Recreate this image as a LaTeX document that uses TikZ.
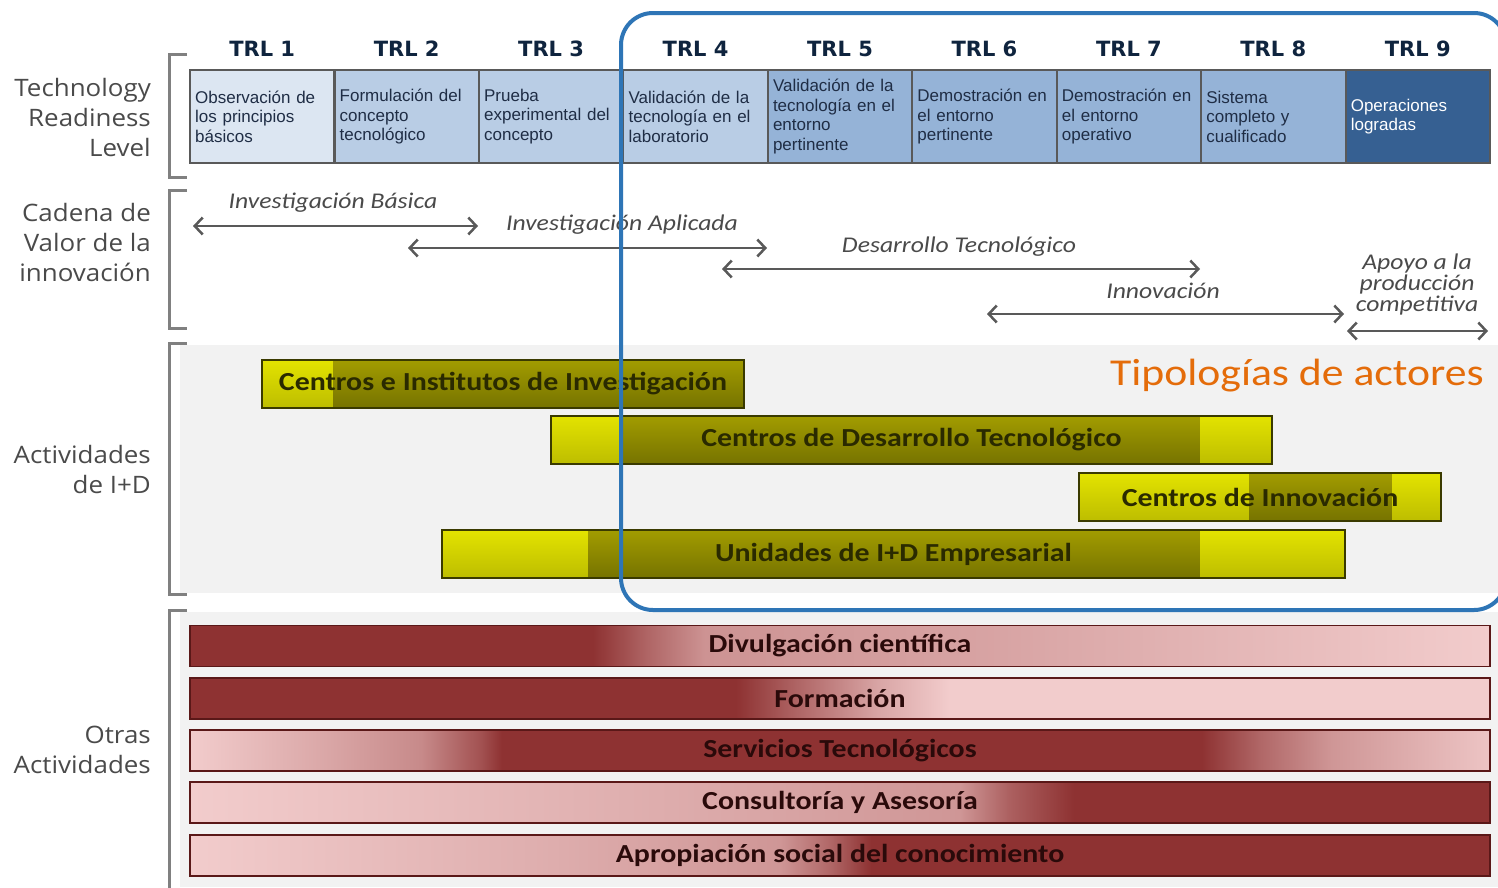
\documentclass[tikz,border=0pt]{standalone}
\usepackage{fontspec}
\setmainfont{Carlito}
\newfontfamily\wcal[FakeStretch=1.15]{Carlito}
\newfontfamily\icalw[FakeStretch=1.14]{Carlito}
\newfontfamily\arialf{Liberation Sans}
\newfontfamily\dejab{DejaVu Sans}
\newfontfamily\opensans[FakeStretch=1.08]{Open Sans}
\usetikzlibrary{arrows.meta}
\definecolor{trlA}{HTML}{DCE6F2}
\definecolor{trlB}{HTML}{B9CDE5}
\definecolor{trlC}{HTML}{95B3D7}
\definecolor{trlD}{HTML}{366092}
\definecolor{boxline}{HTML}{595959}
\definecolor{boxtext}{HTML}{1F2D45}
\definecolor{navy}{HTML}{0F243E}
\definecolor{labgray}{HTML}{4A4A4A}
\definecolor{brk}{HTML}{808080}
\definecolor{panel}{HTML}{F2F2F2}
\definecolor{arr}{HTML}{595959}
\definecolor{bluebox}{HTML}{2E75B6}
\definecolor{orangeT}{HTML}{E46C0A}
\definecolor{ybT}{HTML}{E3E300}
\definecolor{ybB}{HTML}{BDBD00}
\definecolor{ydT}{HTML}{A29C00}
\definecolor{ydB}{HTML}{767300}
\definecolor{yline}{HTML}{3A3A00}
\definecolor{ytext}{HTML}{2A2A00}
\definecolor{dr}{HTML}{8E3232}
\definecolor{lp}{HTML}{F2CCCC}
\definecolor{rline}{HTML}{5A1818}
\definecolor{rtext}{HTML}{2A0A0A}
\pgfdeclarehorizontalshading{shdivul}{100bp}{color(0bp)=(dr); color(25bp)=(dr); color(40.5bp)=(dr); color(42.5bp)=(dr!68!lp); color(44.8bp)=(dr!37!lp); color(56.2bp)=(dr!26!lp); color(75bp)=(lp); color(100bp)=(lp)}
\pgfdeclarehorizontalshading{shform}{100bp}{color(0bp)=(dr); color(25bp)=(dr); color(46bp)=(dr); color(48.5bp)=(dr!65!lp); color(51.5bp)=(dr!25!lp); color(54.2bp)=(lp); color(100bp)=(lp)}
\pgfdeclarehorizontalshading{shserv}{100bp}{color(0bp)=(lp); color(25bp)=(lp); color(30.4bp)=(dr!25!lp); color(33.9bp)=(dr!43!lp); color(36.2bp)=(dr!80!lp); color(37bp)=(dr); color(63.9bp)=(dr); color(66.2bp)=(dr!65!lp); color(68.9bp)=(dr!35!lp); color(71.5bp)=(dr!22!lp); color(75bp)=(dr!5!lp); color(100bp)=(dr!5!lp)}
\pgfdeclarehorizontalshading{shcons}{100bp}{color(0bp)=(lp); color(25bp)=(lp); color(44.6bp)=(dr!22!lp); color(54.6bp)=(dr!35!lp); color(56.5bp)=(dr!70!lp); color(59bp)=(dr); color(100bp)=(dr)}
\pgfdeclarehorizontalshading{shapro}{100bp}{color(0bp)=(lp); color(25bp)=(lp); color(38.9bp)=(dr!20!lp); color(47.7bp)=(dr!35!lp); color(49.6bp)=(dr!65!lp); color(51.2bp)=(dr); color(100bp)=(dr)}
\newcommand{\lowtxt}[1]{\raisebox{-2.5pt}{#1}}
\tikzset{
  trlbox/.style={draw=boxline, line width=2pt, minimum width=144.4pt, minimum height=93pt, inner xsep=5pt, text width=134pt, align=left, font=\arialf\fontsize{17}{19.5}\selectfont, text=boxtext},
  trllab/.style={font=\dejab\bfseries\fontsize{21}{25}\selectfont, text=navy},
  sidelab/.style={anchor=east, align=right, font=\opensans\fontsize{24}{30}\selectfont, text=labgray, inner sep=0pt},
  brack/.style={draw=brk, line width=3pt},
  arrlab/.style={font=\icalw\itshape\fontsize{22.5}{21}\selectfont, text=labgray, align=center, inner sep=0pt},
  dblarrow/.style={draw=arr, line width=2.5pt, {Straight Barb[length=8pt,width=17pt]}-{Straight Barb[length=8pt,width=17pt]}},
  ybox/.style={draw=yline, line width=1.5pt, minimum height=48pt, font=\wcal\bfseries\fontsize{26}{28}\selectfont, text=ytext},
  rbar/.style={shade, draw=rline, line width=1.5pt, minimum width=1300pt, minimum height=41pt, font=\wcal\bfseries\fontsize{26}{28}\selectfont, text=rtext}
}
\begin{document}
\begin{tikzpicture}[x=1pt,y=-1pt]
\clip (0,0) rectangle (1498,887);
\fill[white] (0,0) rectangle (1498,887);
% panels
\fill[panel] (180,345) rectangle (1498,593);
\fill[panel] (180,612) rectangle (1498,887);
% brackets
\draw[brack] (187,54) -- (169,54) -- (169,177) -- (187,177);
\draw[brack] (187,190) -- (169,190) -- (169,328) -- (187,328);
\draw[brack] (187,343) -- (169,343) -- (169,594) -- (187,594);
\draw[brack] (187,610) -- (169,610) -- (169,900);
% side labels
\node[sidelab] (lt) at (151,117) {Technology\\Readiness\\Level};
\node[sidelab] (lc) at (151,242) {Cadena de\\Valor de la\\innovación};
\node[sidelab] (la) at (151,469) {Actividades\\de I+D};
\node[sidelab] (lo) at (151,750) {Otras\\Actividades};
% TRL labels
\node[trllab] (h1) at (262.2,49) {TRL 1};
\node[trllab] (h2) at (406.7,49) {TRL 2};
\node[trllab] (h3) at (551.1,49) {TRL 3};
\node[trllab] (h4) at (695.6,49) {TRL 4};
\node[trllab] (h5) at (840.0,49) {TRL 5};
\node[trllab] (h6) at (984.4,49) {TRL 6};
\node[trllab] (h7) at (1128.9,49) {TRL 7};
\node[trllab] (h8) at (1273.3,49) {TRL 8};
\node[trllab] (h9) at (1417.8,49) {TRL 9};
% TRL boxes
\node[trlbox, fill=trlA] (t1) at (262.2,116.5) {Observación de\\los principios\\básicos};
\node[trlbox, fill=trlB] (t2) at (406.7,116.5) {Formulación del\\concepto\\tecnológico};
\node[trlbox, fill=trlB] (t3) at (551.1,116.5) {Prueba\\experimental del\\concepto};
\node[trlbox, fill=trlB] (t4) at (695.6,116.5) {Validación de la\\tecnología en el\\laboratorio};
\node[trlbox, fill=trlC] (t5) at (840.0,116.5) {Validación de la\\tecnología en el\\entorno\\pertinente};
\node[trlbox, fill=trlC] (t6) at (984.4,116.5) {Demostración en\\el entorno\\pertinente};
\node[trlbox, fill=trlC] (t7) at (1128.9,116.5) {Demostración en\\el entorno\\operativo};
\node[trlbox, fill=trlC] (t8) at (1273.3,116.5) {Sistema\\completo y\\cualificado};
\node[trlbox, fill=trlD, text=white] (t9) at (1417.8,116.5) {Operaciones\\logradas};
% value chain arrows
\coordinate (ibL) at (193,226); \coordinate (ibR) at (478,226);
\coordinate (iaL) at (408,248); \coordinate (iaR) at (767,248);
\coordinate (dtL) at (722,269); \coordinate (dtR) at (1200,269);
\coordinate (inL) at (987,314); \coordinate (inR) at (1344,314);
\coordinate (apL) at (1347,331); \coordinate (apR) at (1488,331);
\draw[dblarrow] (ibL) -- (ibR);
\draw[dblarrow] (iaL) -- (iaR);
\draw[dblarrow] (dtL) -- (dtR);
\draw[dblarrow] (inL) -- (inR);
\draw[dblarrow] (apL) -- (apR);
\node[arrlab] (ibt) at (333,203) {Investigación Básica};
\node[arrlab] (iat) at (622,225) {Investigación Aplicada};
\node[arrlab] (dtt) at (959,247) {Desarrollo Tecnológico};
\node[arrlab] (intt) at (1163,291) {Innovación};
\node[arrlab] (apt) at (1417,284) {Apoyo a la\\producción\\competitiva};
% actor title
\node[anchor=east, inner sep=0pt, font=\wcal\fontsize{38}{40}\selectfont, text=orangeT] (tip) at (1484,376) {Tipologías de actores};
% yellow bars
\shade[top color=ybT, bottom color=ybB] (262,360) rectangle (333,408);
\shade[top color=ydT, bottom color=ydB] (333,360) rectangle (744,408);
\node[ybox, minimum width=482pt] (cii) at (503,384) {\lowtxt{Centros e Institutos de Investigación}};
\shade[top color=ybT, bottom color=ybB] (551,416) rectangle (622,464);
\shade[top color=ydT, bottom color=ydB] (622,416) rectangle (1200,464);
\shade[top color=ybT, bottom color=ybB] (1200,416) rectangle (1272,464);
\node[ybox, minimum width=721pt] (cdt) at (911.5,440) {\lowtxt{Centros de Desarrollo Tecnológico}};
\shade[top color=ybT, bottom color=ybB] (1079,473) rectangle (1249,521);
\shade[top color=ydT, bottom color=ydB] (1249,473) rectangle (1392,521);
\shade[top color=ybT, bottom color=ybB] (1392,473) rectangle (1441,521);
\node[ybox, minimum width=362pt] (cin) at (1260,497) {\lowtxt{Centros de Innovación}};
\shade[top color=ybT, bottom color=ybB] (442,530) rectangle (588,578);
\shade[top color=ydT, bottom color=ydB] (588,530) rectangle (1200,578);
\shade[top color=ybT, bottom color=ybB] (1200,530) rectangle (1345,578);
\node[ybox, minimum width=903pt] (uie) at (893.5,554) {\lowtxt{Unidades de I+D Empresarial}};
% red bars
\node[rbar, shading=shdivul] (r1) at (840,646) {\lowtxt{Divulgación científica}};
\node[rbar, shading=shform] (r2) at (840,698.5) {\lowtxt{Formación}};
\node[rbar, shading=shserv] (r3) at (840,750.5) {\lowtxt{Servicios Tecnológicos}};
\node[rbar, shading=shcons] (r4) at (840,802.5) {\lowtxt{Consultoría y Asesoría}};
\node[rbar, shading=shapro] (r5) at (840,855.5) {\lowtxt{Apropiación social del conocimiento}};
% blue highlight frame
\draw[bluebox, line width=4pt, rounded corners=32pt] (621,13) rectangle (1506,610);
\end{tikzpicture}
\end{document}
